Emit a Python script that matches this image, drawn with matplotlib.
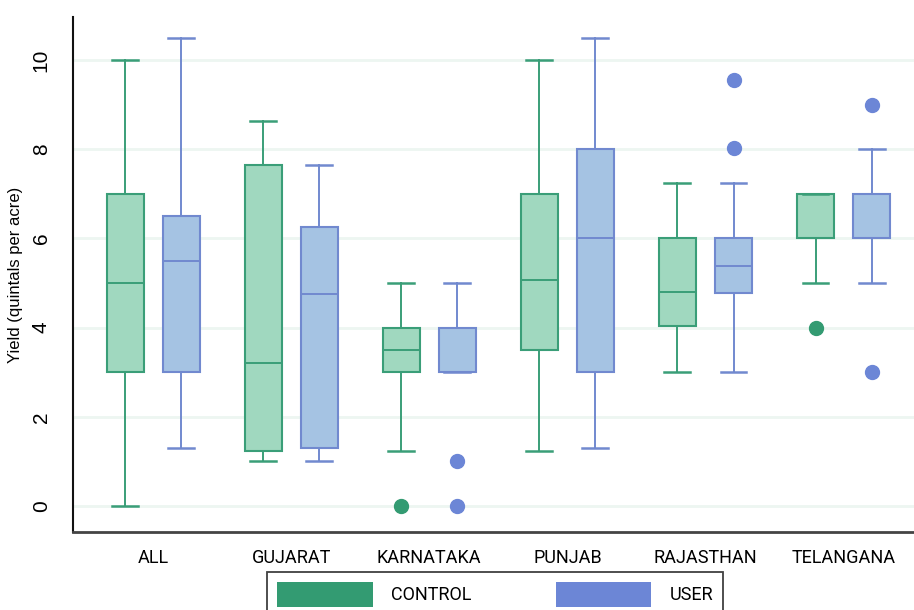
import numpy as np
import matplotlib
matplotlib.use("Agg")
from matplotlib import pyplot as plt
from matplotlib.patches import Patch

states = ["ALL", "GUJARAT", "KARNATAKA", "PUNJAB", "RAJASTHAN", "TELANGANA"]

# five-number summaries per state: low whisker, Q1, median, Q3, high whisker
control_low = [0.0, 1.0, 1.23, 1.23, 3.0, 5.0]
control_q1 = [3.0, 1.23, 3.0, 3.5, 4.03, 6.0]
control_med = [5.0, 3.2, 3.5, 5.07, 4.8, 6.0]
control_q3 = [7.0, 7.65, 4.0, 7.0, 6.0, 7.0]
control_high = [10.0, 8.63, 5.0, 10.0, 7.24, 7.0]
control_fliers = [[], [], [0.0], [], [], [4.0]]

user_low = [1.3, 1.0, 3.0, 1.3, 3.0, 5.0]
user_q1 = [3.0, 1.3, 3.0, 3.0, 4.77, 6.0]
user_med = [5.5, 4.75, 3.0, 6.0, 5.38, 6.0]
user_q3 = [6.5, 6.26, 4.0, 8.0, 6.0, 7.0]
user_high = [10.5, 7.65, 5.0, 10.5, 7.24, 8.0]
user_fliers = [[], [], [1.0, 0.0], [], [9.55, 8.03], [9.0, 3.0]]

green_edge = "#3a9e78"
green_fill = "#a0d8bf"
green_dark = "#339b72"
blue_edge = "#7189cf"
blue_fill = "#a5c3e3"
blue_dark = "#6c86d6"


def make_stats(low, q1, med, q3, high, fliers):
    return [
        dict(whislo=a, q1=b, med=c, q3=d, whishi=e, fliers=f)
        for a, b, c, d, e, f in zip(low, q1, med, q3, high, fliers)
    ]


fig = plt.figure(figsize=(9.14, 6.10), dpi=100)
ax = fig.add_axes([0.0799, 0.128, 0.9201, 0.844])

x = np.arange(len(states))
offset = 0.203
width = 0.268

for stats, pos, edge, fill, dark in [
    (make_stats(control_low, control_q1, control_med, control_q3, control_high, control_fliers),
     x - offset, green_edge, green_fill, green_dark),
    (make_stats(user_low, user_q1, user_med, user_q3, user_high, user_fliers),
     x + offset, blue_edge, blue_fill, blue_dark),
]:
    ax.bxp(
        stats, positions=pos, widths=width, capwidths=width * 0.7,
        patch_artist=True, manage_ticks=False,
        boxprops=dict(facecolor=fill, edgecolor=edge, linewidth=1.5),
        medianprops=dict(color=edge, linewidth=1.4),
        whiskerprops=dict(color=edge, linewidth=1.4),
        capprops=dict(color=edge, linewidth=1.8),
        flierprops=dict(marker="o", markersize=10, markerfacecolor=dark,
                        markeredgecolor=dark),
    )

ax.set_xlim(-0.58, 5.51)
ax.set_ylim(-0.58, 10.96)
ax.set_xticks(x)
ax.set_xticklabels(states, fontfamily="Roboto", fontsize=13)
ax.set_yticks(range(0, 11, 2))
ax.set_yticklabels([str(v) for v in range(0, 11, 2)], rotation=90,
                   va="center", fontfamily="Liberation Sans", fontsize=15)
ax.tick_params(axis="x", length=0, pad=12)
ax.tick_params(axis="y", length=0, pad=16)
ax.yaxis.grid(True, color="#edf6f1", linewidth=2)
ax.set_axisbelow(True)
ax.set_ylabel("Yield (quintals per acre)", fontfamily="Liberation Sans",
              fontsize=12, labelpad=6)

for side in ["top", "right"]:
    ax.spines[side].set_visible(False)
ax.spines["left"].set_color("#111111")
ax.spines["bottom"].set_color("#444444")
ax.spines["left"].set_linewidth(1.5)
ax.spines["bottom"].set_linewidth(2)

# legend box spans a fixed width below the plot
handles = [Patch(facecolor=green_dark, edgecolor="none"),
           Patch(facecolor=blue_dark, edgecolor="none")]
leg = fig.legend(handles, ["CONTROL", "USER"], loc="upper left",
                 bbox_to_anchor=(267 / 914, 1 - 573 / 610, 456 / 914, 0.001),
                 mode="expand", ncol=2,
                 frameon=True, fancybox=False, handlelength=5.3,
                 handleheight=1.7, handletextpad=1.0, columnspacing=3.6,
                 borderpad=0.55, borderaxespad=0,
                 prop=dict(family="Roboto", size=13))
leg.get_frame().set_edgecolor("#111111")
leg.get_frame().set_linewidth(1.3)

fig.savefig("out.png", dpi=100)
